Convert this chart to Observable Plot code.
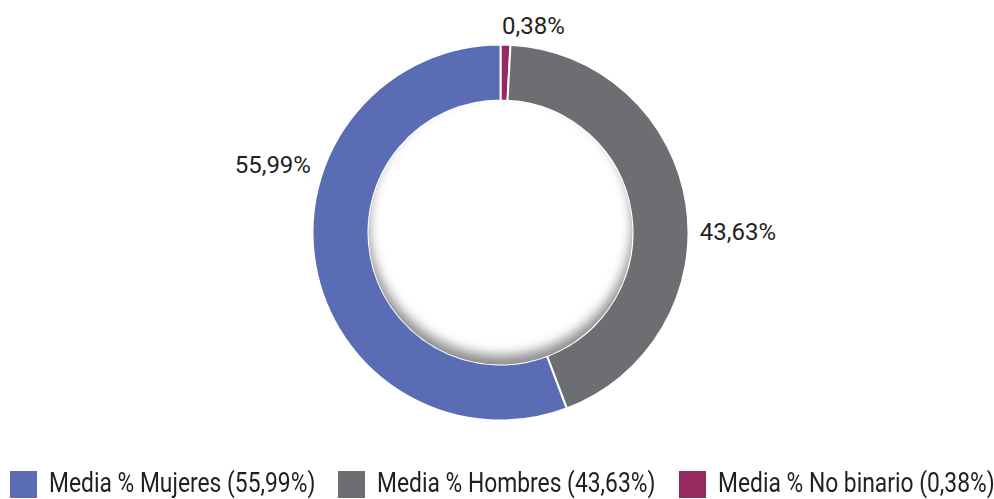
<!DOCTYPE html>
<html>
<head>
<meta charset="utf-8">
<script src="https://cdn.jsdelivr.net/npm/d3@7"></script>
<script src="https://cdn.jsdelivr.net/npm/@observablehq/plot@0.6"></script>
<style>
  html, body { margin: 0; padding: 0; background: #ffffff; }
  body { font-family: Roboto, "Liberation Sans", sans-serif; }
  #chart { position: relative; width: 994px; height: 499px; overflow: hidden; }
  #legend { height: 39px; padding-left: 10px; box-sizing: border-box; }
  #legend .lg-swatches-wrap { display: flex; align-items: center; flex-wrap: nowrap; min-height: 27px; margin: 0; padding-top: 11px; }
  #legend .lg-swatch { display: inline-flex; align-items: center; margin-right: 23px; color: #231F20; font-size: 27.5px; line-height: 27px; white-space: nowrap; }
  #legend .lg-swatch > svg { margin-right: 12px; flex: none; }
  #legend .lg-text { display: inline-block; transform-origin: 0 50%; position: relative; top: -2px; }
</style>
</head>
<body>
<div id="chart"></div>
<script>
// ---- data ----
const categories = ["Media % No binario", "Media % Hombres", "Media % Mujeres"];
const values = [0.38, 43.63, 55.99];
const valueLabels = ["0,38%", "43,63%", "55,99%"];
const colors = ["#96295F", "#6D6E71", "#596CB4"];
const legendOrder = ["Media % Mujeres", "Media % Hombres", "Media % No binario"];
const legendLabels = ["Media % Mujeres (55,99%)", "Media % Hombres (43,63%)", "Media % No binario (0,38%)"];

// ---- layout ----
const W = 994, H = 460;
const CX = 500.5, CY = 232.5;     // donut centre (px)
const R_OUT = 188, R_IN = 132;
const MIN_VISIBLE = 0.85;         // tiny slices drawn at least this wide (percent of circle)
const LEGEND_SQUEEZE = 0.83;      // condensed look for legend text
const labelPlacement = {          // [angle (deg, clockwise from top), radius]
  "Media % No binario": [8.9, 209],
  "Media % Hombres": [89.9, 237],
  "Media % Mujeres": [286.5, 238]
};

const rows = categories.map((c, i) => ({category: c, value: values[i], label: valueLabels[i], color: colors[i]}));
const labelRows = rows.map(d => {
  const [a, r] = labelPlacement[d.category];
  const t = a * Math.PI / 180;
  return {...d, lx: r * Math.sin(t), ly: -r * Math.cos(t)};
});

function donut(index, scales, values, dimensions, context) {
  const cx = scales.x(0), cy = scales.y(0);
  const k = scales.x(1) - scales.x(0);
  const g = d3.create("svg:g");
  const uid = "d" + Math.random().toString(36).slice(2);
  const defs = g.append("defs");
  defs.append("clipPath").attr("id", uid + "c")
    .append("circle").attr("cx", cx).attr("cy", cy).attr("r", R_IN * k);
  defs.append("filter").attr("id", uid + "f").attr("x", "-20%").attr("y", "-20%").attr("width", "140%").attr("height", "140%")
    .append("feGaussianBlur").attr("stdDeviation", 6);
  const pie = d3.pie().sort(null).value(d => Math.max(d.value, MIN_VISIBLE))(rows);
  const arc = d3.arc().innerRadius(R_IN * k).outerRadius(R_OUT * k);
  g.append("g").attr("transform", `translate(${cx},${cy})`)
    .selectAll("path").data(pie).join("path")
    .attr("d", arc)
    .attr("fill", d => d.data.color)
    .attr("stroke", "#ffffff")
    .attr("stroke-width", 2)
    .attr("stroke-linejoin", "round");
  // inner hole with inset shadow (lit from above)
  const hole = g.append("g").attr("clip-path", `url(#${uid}c)`);
  hole.append("circle").attr("cx", cx).attr("cy", cy).attr("r", R_IN * k + 1).attr("fill", "#ffffff");
  hole.append("circle").attr("cx", cx).attr("cy", cy - 9).attr("r", (R_IN + 10) * k)
    .attr("fill", "none").attr("stroke", "#000").attr("stroke-opacity", 0.45)
    .attr("stroke-width", 20).attr("filter", `url(#${uid}f)`);
  return g.node();
}

const plot = Plot.plot({
  width: W,
  height: H,
  margin: 0,
  style: {background: "#ffffff", fontFamily: "Roboto, \"Liberation Sans\", sans-serif", overflow: "visible"},
  x: {domain: [-CX, W - CX], range: [0, W], axis: null},
  y: {domain: [-CY, H - CY], range: [0, H], axis: null},
  marks: [
    donut,
    Plot.text(labelRows, {
      x: "lx", y: "ly", text: "label",
      fontSize: 24, fill: "#231F20", textAnchor: "middle", lineAnchor: "middle"
    })
  ]
});

const legend = Plot.legend({
  color: {type: "ordinal", domain: legendLabels, range: legendOrder.map(c => colors[categories.indexOf(c)])},
  swatchSize: 27,
  className: "lg",
  style: {fontFamily: "Roboto, \"Liberation Sans\", sans-serif", fontSize: "27.5px"}
});
const legendBox = document.createElement("div");
legendBox.id = "legend";
legendBox.appendChild(legend);

const chart = document.getElementById("chart");
chart.appendChild(plot);
chart.appendChild(legendBox);

// condense legend label text
legendBox.querySelectorAll(".lg-swatch").forEach(sw => {
  const nodes = Array.from(sw.childNodes).filter(n => n.nodeType === 3 || (n.nodeType === 1 && n.tagName.toLowerCase() !== "svg"));
  const span = document.createElement("span");
  span.className = "lg-text";
  nodes.forEach(n => span.appendChild(n));
  sw.appendChild(span);
  const w = span.getBoundingClientRect().width;
  span.style.transform = `scaleX(${LEGEND_SQUEEZE})`;
  span.style.marginRight = `${-(1 - LEGEND_SQUEEZE) * w}px`;
});
</script>
</body>
</html>
